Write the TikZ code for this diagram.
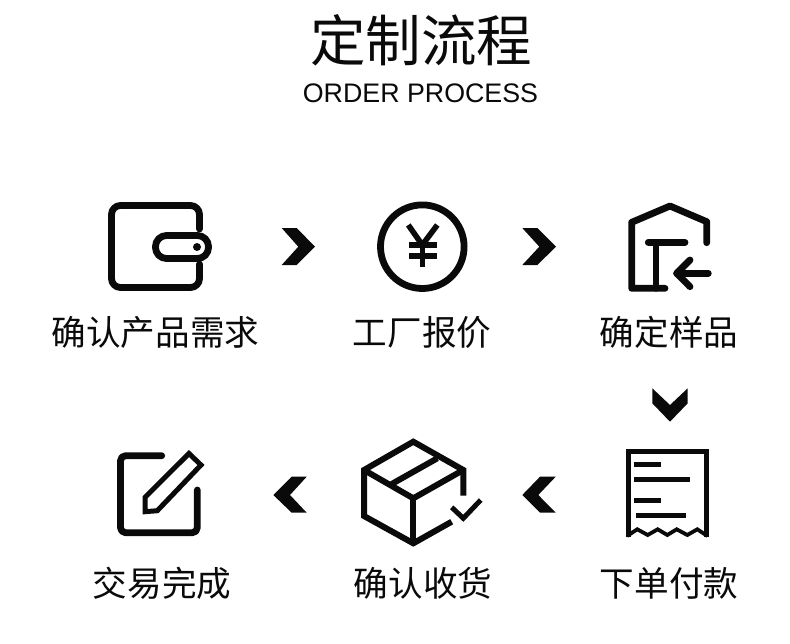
\documentclass[tikz,border=0pt]{standalone}
\usepackage{fontspec}
\usepackage{tikz}
\setmainfont{Liberation Sans}
\newfontfamily\cjkfont{Noto Sans CJK SC}
\definecolor{IconInk}{HTML}{0A0A0A}
\begin{document}
\begin{tikzpicture}[
  x=1pt, y=-1pt,
  icon/.style={draw=IconInk, line width=6.8pt, line cap=round, line join=round},
  yenicon/.style={draw=IconInk, line width=5.6pt, line cap=butt, line join=miter},
  boxicon/.style={draw=IconInk, line width=6pt, line cap=butt, line join=miter},
  billicon/.style={draw=IconInk, line width=5pt, line cap=butt, line join=miter},
  chevron/.style={fill=IconInk, draw=none},
  heading/.style={text=IconInk, inner sep=0pt, font=\cjkfont\fontsize{55.5}{55.5}\selectfont},
  subheading/.style={text=IconInk, inner sep=0pt, font=\fontsize{26.8}{26.8}\selectfont},
  stage/.style={text=IconInk, inner sep=0pt, font=\cjkfont\fontsize{34.6}{34.6}\selectfont}
]
\useasboundingbox (0,0) rectangle (790,643);
\fill[white] (0,0) rectangle (790,643);
\node[heading] (title) at (421,40) {定制流程};
\node[subheading] (subtitle) at (420.5,93) {ORDER PROCESS};
\node[stage] (s1) at (155.5,332) {确认产品需求};
\node[stage] (s2) at (422,332) {工厂报价};
\node[stage] (s3) at (669,332) {确定样品};
\node[stage] (s4) at (669,583) {下单付款};
\node[stage] (s5) at (423,583) {确认收货};
\node[stage] (s6) at (162,583) {交易完成};
\draw[icon, rounded corners=9pt] (199.5,229) -- (199.5,205.5) -- (111.5,205.5)
  -- (111.5,287.5) -- (199.5,287.5) -- (199.5,264);
\draw[icon, rounded corners=11pt] (155.5,235.5) rectangle (208.5,258.5);
\fill[IconInk] (197,247) circle (4);
\fill[chevron] (281.7,228) -- (296.7,228) -- (315,246.7) -- (296.7,265) -- (281.7,265) -- (298.3,246.7) -- cycle;
\draw[icon] (422.3,246.7) circle (41.8);
\draw[yenicon] (408.3,225) -- (422.3,245) -- (437.3,225);
\draw[yenicon] (422.3,245) -- (422.3,266.7);
\draw[yenicon] (409.3,245) -- (436.7,245);
\draw[yenicon] (409.3,255.7) -- (436.7,255.7);
\fill[chevron] (522.3,228) -- (537.3,228) -- (556,246.7) -- (537.3,265) -- (522.3,265) -- (539.3,246.7) -- cycle;
\draw[icon] (706.7,242.7) -- (706.7,221.7) -- (670,206) -- (631.7,222.3) -- (631.7,288.3) -- (665,288.3);
\draw[icon] (648.3,242.3) -- (685,242.3);
\draw[icon] (656,242.3) -- (656,288.3);
\draw[icon] (708.3,273.3) -- (676.7,273.3);
\draw[icon] (690,260) -- (676.7,273.3) -- (690,286.7);
\fill[chevron] (652.3,388.3) -- (670,405) -- (687.7,388.3) -- (687.7,403.3) -- (670,421.7) -- (652.3,403.3) -- cycle;
\draw[billicon] (628.5,537) -- (628.5,451) -- (706,451) -- (706,537);
\draw[billicon, line width=3.8pt] (627,536) -- (637.3,529.3) -- (647.7,535) -- (657.7,529.3) -- (667.3,535)
  -- (676.7,529.3) -- (687.3,535) -- (697.3,529.3) -- (707.5,536);
\draw[billicon] (634.3,464.3) -- (661,464.3);
\draw[billicon] (634.3,479) -- (690,479);
\draw[billicon] (634.3,500.7) -- (661,500.7);
\draw[billicon] (635.7,515) -- (686,515);
\draw[boxicon] (463.3,495.7) -- (463.3,470) -- (413.3,441.7) -- (364,470) -- (364,516) -- (413.3,543.3) -- (451.7,521.7);
\draw[boxicon] (364,470) -- (413.3,498.3) -- (463.3,470);
\draw[boxicon] (413.3,498.3) -- (413.3,543.3);
\draw[boxicon] (391.7,484) -- (437.3,458.3);
\draw[billicon] (451.7,507.3) -- (463.3,518.3) -- (480.7,500);
\fill[chevron] (555.7,476.7) -- (540,476.7) -- (522.3,495) -- (540,512.7) -- (555.7,512.7) -- (538.3,495) -- cycle;
\fill[chevron] (306.7,476.7) -- (291.7,476.7) -- (273.3,495) -- (291.7,512.7) -- (306.7,512.7) -- (290,495) -- cycle;
\draw[icon, rounded corners=5pt] (161.7,455.7) -- (120.5,455.7) -- (120.5,532.7) -- (197.3,532.7) -- (197.3,490);
\draw[billicon] (145,511.7) -- (145,497.3) -- (189,453.5) -- (201,465) -- (157.3,510.7) -- cycle;
\end{tikzpicture}
\end{document}
